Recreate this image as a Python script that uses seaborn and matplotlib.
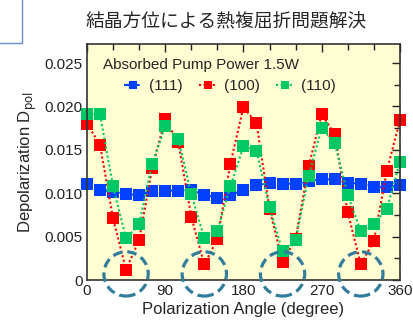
import pandas as pd
import numpy as np
import matplotlib
matplotlib.use("Agg")
import matplotlib.pyplot as plt
from matplotlib.patches import Ellipse, Rectangle
import seaborn as sns

angles = [0, 15, 30, 45, 60, 75, 90, 105, 120, 135, 150, 165, 180,
          195, 210, 225, 240, 255, 270, 285, 300, 315, 330, 345, 360]

d111 = [0.0111, 0.0104, 0.0102, 0.0099, 0.0098, 0.0103, 0.0103, 0.0103, 0.0104,
        0.0098, 0.0095, 0.0098, 0.0104, 0.0109, 0.0112, 0.0111, 0.0111, 0.0114,
        0.0116, 0.0116, 0.0112, 0.0111, 0.0107, 0.0107, 0.0109]
d100 = [0.0180, 0.0156, 0.0071, 0.0012, 0.0046, 0.0129, 0.0185, 0.0159, 0.0073,
        0.0018, 0.0047, 0.0134, 0.0199, 0.0181, 0.0082, 0.0021, 0.0047, 0.0131,
        0.0191, 0.0168, 0.0078, 0.0018, 0.0045, 0.0126, 0.0184]
d110 = [0.0191, 0.0191, 0.0108, 0.0048, 0.0064, 0.0134, 0.0177, 0.0163, 0.0099,
        0.0048, 0.0057, 0.0108, 0.0154, 0.0149, 0.0084, 0.0033, 0.0046, 0.0120,
        0.0175, 0.0158, 0.0098, 0.0056, 0.0065, 0.0082, 0.0136]

series_names = ["(111)", "(100)", "(110)"]
series_colors = ["#0040FF", "#FF0000", "#00C864"]
circle_angles = [45, 135, 225, 315]

title = "結晶方位による熱複屈折問題解決"
legend_title = "Absorbed Pump Power 1.5W"
xticks = [0, 90, 180, 270, 360]
yticks = [0, 0.005, 0.010, 0.015, 0.020, 0.025]
ytick_labels = ["0", "0.005", "0.010", "0.015", "0.020", "0.025"]

df = pd.DataFrame({
    "angle": angles * 3,
    "dpol": d111 + d100 + d110,
    "orient": [n for n in series_names for _ in angles],
})

sns.set_style("white")
plt.rcParams["font.family"] = ["Liberation Sans", "Noto Sans CJK JP", "DejaVu Sans"]

fig = plt.figure(figsize=(4.14, 3.27), dpi=100)
ax = fig.add_axes([0.210, 0.1437, 0.756, 0.7217])
ax.set_facecolor("#FFFDD2")

sns.lineplot(data=df, x="angle", y="dpol", hue="orient", style="orient",
             palette=dict(zip(series_names, series_colors)),
             dashes={"(111)": (3, 1.5), "(100)": (1, 1.2), "(110)": (1, 1.2)},
             markers={n: "s" for n in series_names},
             markersize=9, markeredgewidth=0, linewidth=1.5,
             clip_on=False, ax=ax, legend=True)

# dashed circles around the minima of (100)
for a in circle_angles:
    ax.add_patch(Ellipse((a, 0.0007), 51, 0.0051, fill=False, ec="#317D9B",
                         lw=2.3, ls=(0, (3, 1.6)), clip_on=False, zorder=5))

ax.set_xlim(0, 360)
ax.set_ylim(0, 0.0272)
ax.set_xticks(xticks)
ax.set_xticks(range(0, 361, 30), minor=True)
ax.set_yticks(yticks, labels=ytick_labels)
ax.set_yticks(np.arange(0, 0.027, 0.0025), minor=True)
ax.tick_params(which="both", direction="in", top=True, right=True,
               labelsize=11, width=1, colors="#222222", pad=3)
ax.tick_params(which="major", length=6)
ax.tick_params(which="minor", length=4)
for s in ax.spines.values():
    s.set_linewidth(1.2)
    s.set_color("#333333")

ax.set_xlabel("Polarization Angle (degree)", fontsize=12, labelpad=3)
ax.set_ylabel("Depolarization D$_{\\mathrm{pol}}$", fontsize=12, labelpad=4)

handles, labels = ax.get_legend_handles_labels()
ax.legend(handles, labels, ncol=3, frameon=False, fontsize=11,
          loc="center left", bbox_to_anchor=(0.1, 0.822),
          handlelength=1.1, handletextpad=0.5, columnspacing=1.1,
          markerscale=0.6, borderaxespad=0)
ax.text(0.051, 0.911, legend_title, transform=ax.transAxes, fontsize=11,
        va="center", ha="left")

fig.text(0.546, 0.93, title, fontsize=13.5, ha="center", va="center")
fig.add_artist(Rectangle((-0.05, 0.8685), 0.1031, 0.3, transform=fig.transFigure,
                         fill=False, ec="#6A8FD0", lw=1))

fig.savefig("out.png", dpi=100)
